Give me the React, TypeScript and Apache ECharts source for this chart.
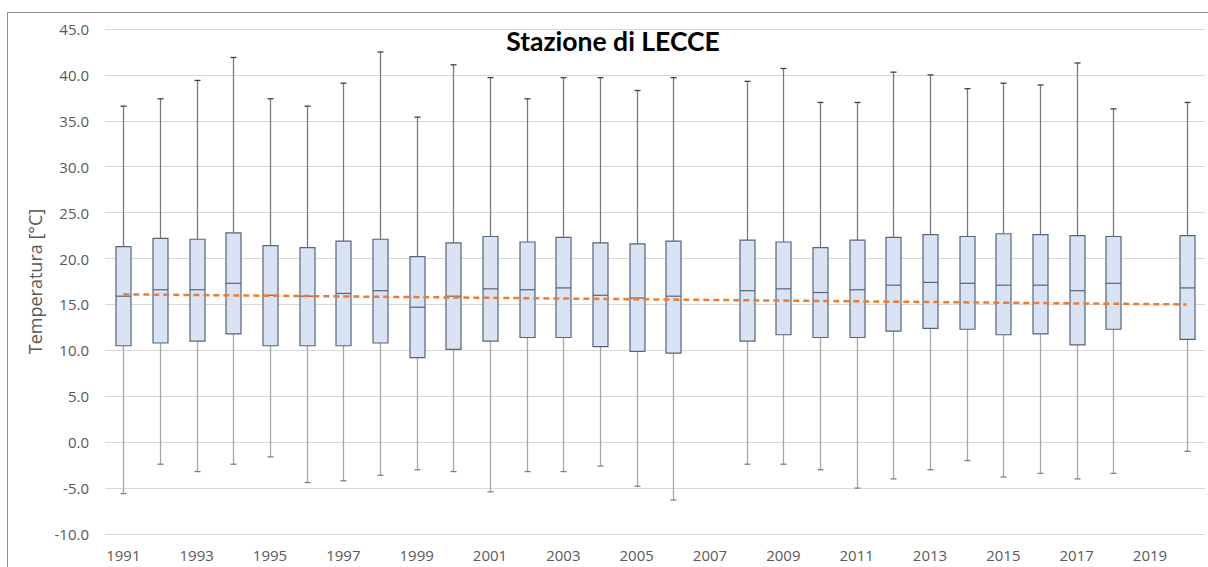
import React, { useEffect, useRef } from "react";
import * as echarts from "echarts";

const years = [
  "1991","1992","1993","1994","1995","1996","1997","1998","1999","2000",
  "2001","2002","2003","2004","2005","2006","2007","2008","2009","2010",
  "2011","2012","2013","2014","2015","2016","2017","2018","2019","2020",
];
const maxVals = [36.6,37.4,39.4,41.9,37.4,36.6,39.1,42.5,35.4,41.1,39.7,37.4,39.7,39.7,38.3,39.7,null,39.3,40.7,37.0,37.0,40.3,40.0,38.5,39.1,38.9,41.3,36.3,null,37.0];
const q3Vals = [21.3,22.2,22.1,22.8,21.4,21.2,21.9,22.1,20.2,21.7,22.4,21.8,22.3,21.7,21.6,21.9,null,22.0,21.8,21.2,22.0,22.3,22.6,22.4,22.7,22.6,22.5,22.4,null,22.5];
const medianVals = [15.9,16.6,16.6,17.3,16.0,15.9,16.2,16.5,14.7,15.9,16.7,16.6,16.8,16.0,15.7,15.9,null,16.5,16.7,16.3,16.6,17.1,17.4,17.3,17.1,17.1,16.5,17.3,null,16.8];
const q1Vals = [10.5,10.8,11.0,11.8,10.5,10.5,10.5,10.8,9.2,10.1,11.0,11.4,11.4,10.4,9.9,9.7,null,11.0,11.7,11.4,11.4,12.1,12.4,12.3,11.7,11.8,10.6,12.3,null,11.2];
const minVals = [-5.6,-2.4,-3.2,-2.4,-1.6,-4.4,-4.2,-3.6,-3.0,-3.2,-5.4,-3.2,-3.2,-2.6,-4.8,-6.3,null,-2.4,-2.4,-3.0,-5.0,-4.0,-3.0,-2.0,-3.8,-3.4,-4.0,-3.4,null,-1.0];
const trendStart = 16.1;
const trendEnd = 15.0;

const title = "Stazione di LECCE";
const yName = "Temperatura [°C]";

export default function App() {
  const ref = useRef<HTMLDivElement>(null);
  useEffect(() => {
    document.body.style.margin = "0";
    if (!ref.current) return;
    const chart = echarts.init(ref.current, null, { renderer: "svg" });

    const boxData: any[] = [];
    years.forEach((y, i) => {
      if (medianVals[i] == null) return;
      boxData.push([i, minVals[i], q1Vals[i], medianVals[i], q3Vals[i], maxVals[i]]);
    });

    const font = "'Open Sans', sans-serif";

    chart.setOption({
      animation: false,
      backgroundColor: "#ffffff",
      title: {
        text: title,
        left: 608,
        top: 22,
        textAlign: "center",
        textStyle: { fontFamily: "Lato, sans-serif", fontWeight: "bold", fontSize: 26.5, color: "#000000" },
      },
      graphic: [
        {
          type: "rect",
          shape: { x: 7.5, y: 12.5, width: 1215, height: 570 },
          style: { fill: "none", stroke: "#8c8c8c", lineWidth: 1 },
          silent: true,
          z: -1,
        },
      ],
      grid: { left: 105, right: 3, top: 29, bottom: 33 },
      xAxis: {
        type: "category",
        data: years,
        boundaryGap: true,
        axisLine: { show: false },
        axisTick: { show: false },
        axisLabel: { interval: 1, margin: 13, color: "#595959", fontSize: 15, fontFamily: font },
        splitLine: { show: false },
      },
      yAxis: {
        type: "value",
        min: -10,
        max: 45,
        interval: 5,
        name: yName,
        nameLocation: "middle",
        nameGap: 59,
        nameTextStyle: { color: "#595959", fontSize: 18, fontFamily: font },
        axisLine: { show: false },
        axisTick: { show: false },
        axisLabel: { color: "#595959", fontSize: 15, fontFamily: font, margin: 16, formatter: (v: number) => v.toFixed(1) },
        splitLine: { lineStyle: { color: "#d9d9d9", width: 1 } },
      },
      series: [
        {
          type: "custom",
          data: boxData,
          encode: { x: 0, y: [1, 2, 3, 4, 5] },
          renderItem: (params: any, api: any) => {
            const idx = api.value(0);
            const pMin = api.coord([idx, api.value(1)]);
            const pQ1 = api.coord([idx, api.value(2)]);
            const pMed = api.coord([idx, api.value(3)]);
            const pQ3 = api.coord([idx, api.value(4)]);
            const pMax = api.coord([idx, api.value(5)]);
            const x = Math.round(pMed[0]) + 0.5;
            const half = 7.5;
            const cap = 3;
            const boxStroke = "#56647a";
            return {
              type: "group",
              children: [
                { type: "line", shape: { x1: x, y1: pQ3[1], x2: x, y2: pMax[1] }, style: { stroke: "#7a7a7a", lineWidth: 1.3 } },
                { type: "line", shape: { x1: x, y1: pQ1[1], x2: x, y2: pMin[1] }, style: { stroke: "#a6a6a6", lineWidth: 1.3 } },
                { type: "line", shape: { x1: x - cap, y1: pMax[1], x2: x + cap, y2: pMax[1] }, style: { stroke: "#404040", lineWidth: 1.3 } },
                { type: "line", shape: { x1: x - cap, y1: pMin[1], x2: x + cap, y2: pMin[1] }, style: { stroke: "#808080", lineWidth: 1.3 } },
                {
                  type: "rect",
                  shape: { x: x - half, y: pQ3[1], width: half * 2, height: pQ1[1] - pQ3[1] },
                  style: { fill: "#dae3f3", stroke: boxStroke, lineWidth: 1.2 },
                },
                { type: "line", shape: { x1: x - half, y1: pMed[1], x2: x + half, y2: pMed[1] }, style: { stroke: boxStroke, lineWidth: 1.2 } },
              ],
            };
          },
          z: 2,
        },
        {
          type: "line",
          data: [[0, trendStart], [years.length - 1, trendEnd]],
          symbol: "none",
          lineStyle: { color: "#ed7d31", width: 2.5, type: [6, 4] },
          z: 3,
        },
      ],
    });
    return () => chart.dispose();
  }, []);
  return <div ref={ref} style={{ width: 1208, height: 567 }} />;
}
